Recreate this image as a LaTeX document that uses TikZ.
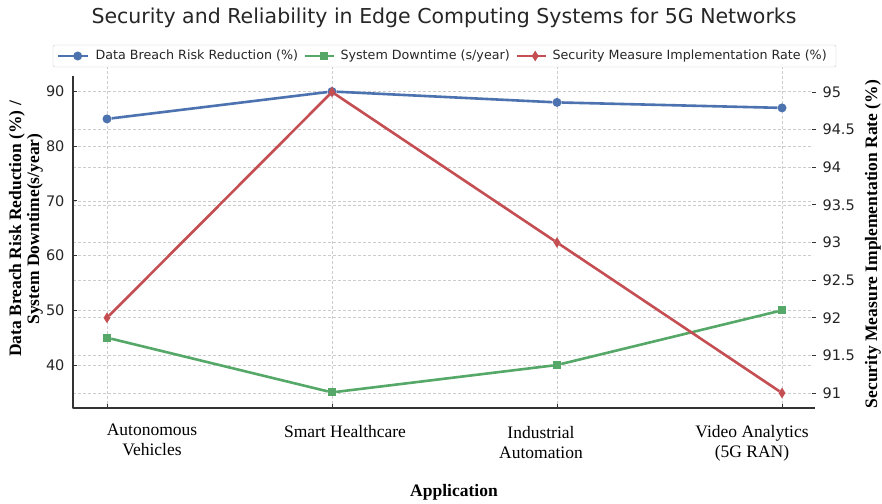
\documentclass[tikz,border=0pt]{standalone}
\usepackage{fontspec}
\setmainfont{Liberation Serif}
\newfontfamily\dejavu{DejaVu Sans}
\usetikzlibrary{shapes.geometric}
\definecolor{breachblue}{HTML}{4C72B0}
\definecolor{downgreen}{HTML}{55A868}
\definecolor{ratered}{HTML}{C44E52}
\definecolor{spinegrey}{HTML}{333333}
\begin{document}
\begin{tikzpicture}[x=1pt, y=-1pt, line join=round,
  grid line/.style={draw=black!20, dashed, dash pattern=on 3pt off 2pt, line width=0.7pt},
  spine/.style={draw=spinegrey, line width=1.3pt},
  tick mark/.style={draw=spinegrey, line width=0.9pt},
  tick label/.style={font=\dejavu\fontsize{14.5}{14.5}\selectfont, text=black!85},
  cat label/.style={font=\fontsize{17.5}{20}\selectfont, align=center},
  axis label/.style={font=\bfseries\fontsize{17.5}{18}\selectfont, align=center},
  blue node/.style={circle, fill=breachblue, minimum size=9pt, inner sep=0pt},
  green node/.style={rectangle, fill=downgreen, minimum size=8pt, inner sep=0pt},
  red node/.style={diamond, fill=ratered, minimum width=7pt, minimum height=11pt, inner sep=0pt},
  blue line/.style={draw=breachblue, line width=2.6pt},
  green line/.style={draw=downgreen, line width=2.6pt},
  red line/.style={draw=ratered, line width=2.6pt}]
\useasboundingbox[fill=white] (0,0) rectangle (882,503);
% grid
\begin{scope}[grid line]
\draw (107,56) -- (107,408);
\draw (332,56) -- (332,408);
\draw (557,56) -- (557,408);
\draw (782,56) -- (782,408);
\draw (73,91.5) -- (813,91.5);
\draw (73,146.2) -- (813,146.2);
\draw (73,200.9) -- (813,200.9);
\draw (73,255.6) -- (813,255.6);
\draw (73,310.3) -- (813,310.3);
\draw (73,365) -- (813,365);
\draw (73,129.6) -- (813,129.6);
\draw (73,167.3) -- (813,167.3);
\draw (73,204.9) -- (813,204.9);
\draw (73,242.5) -- (813,242.5);
\draw (73,280.1) -- (813,280.1);
\draw (73,317.8) -- (813,317.8);
\draw (73,355.4) -- (813,355.4);
\draw (73,393) -- (813,393);
\end{scope}
% axes
\draw[spine] (73,76) -- (73,408) -- (815,408);
\begin{scope}[tick mark]
\draw (73,91.5) -- (77,91.5);
\draw (73,146.2) -- (77,146.2);
\draw (73,200.9) -- (77,200.9);
\draw (73,255.6) -- (77,255.6);
\draw (73,310.3) -- (77,310.3);
\draw (73,365) -- (77,365);
\draw (107,408) -- (107,404);
\draw (332,408) -- (332,404);
\draw (557,408) -- (557,404);
\draw (782,408) -- (782,404);
\draw (812,92) -- (816,92);
\draw (812,129.6) -- (816,129.6);
\draw (812,167.3) -- (816,167.3);
\draw (812,204.9) -- (816,204.9);
\draw (812,242.5) -- (816,242.5);
\draw (812,280.1) -- (816,280.1);
\draw (812,317.8) -- (816,317.8);
\draw (812,355.4) -- (816,355.4);
\draw (812,393) -- (816,393);
\end{scope}
\begin{scope}[every node/.style={tick label, anchor=east}]
\node (l90) at (68,91.5) {90};
\node (l80) at (68,146.2) {80};
\node (l70) at (68,200.9) {70};
\node (l60) at (68,255.6) {60};
\node (l50) at (68,310.3) {50};
\node (l40) at (68,365) {40};
\end{scope}
\begin{scope}[every node/.style={tick label, anchor=west}]
\node (r950) at (819,92) {95};
\node (r945) at (819,129.6) {94.5};
\node (r940) at (819,167.3) {94};
\node (r935) at (819,204.9) {93.5};
\node (r930) at (819,242.5) {93};
\node (r925) at (819,280.1) {92.5};
\node (r920) at (819,317.8) {92};
\node (r915) at (819,355.4) {91.5};
\node (r910) at (819,393) {91};
\end{scope}
\begin{scope}[every node/.style={cat label}]
\node (c1) at (152,440) {Autonomous\\Vehicles};
\node (c2) at (345,432) {Smart Healthcare};
\node (c3) at (541,443) {Industrial\\Automation};
\node (c4) at (752,443) {Video Analytics\\(5G RAN)};
\end{scope}
\node[axis label] (xlab) at (454,492) {Application};
\node[axis label, rotate=90] (ylab) at (26,229) {Data Breach Risk Reduction (\%) /\\System Downtime(s/year)};
\node[axis label, rotate=90] (y2lab) at (873,244) {Security Measure Implementation Rate (\%)};
% series
\node[blue node] (b1) at (107,118.9) {};
\node[blue node] (b2) at (332,91.5) {};
\node[blue node] (b3) at (557,102.4) {};
\node[blue node] (b4) at (782,107.9) {};
\node[green node] (g1) at (107,337.7) {};
\node[green node] (g2) at (332,392.4) {};
\node[green node] (g3) at (557,365) {};
\node[green node] (g4) at (782,310.3) {};
\node[red node] (s1) at (107,317.8) {};
\node[red node] (s2) at (332,92) {};
\node[red node] (s3) at (557,242.5) {};
\node[red node] (s4) at (782,393) {};
\draw[blue line] (b1) -- (b2) -- (b3) -- (b4);
\draw[green line] (g1) -- (g2) -- (g3) -- (g4);
\draw[red line] (s1) -- (s2) -- (s3) -- (s4);
% title and legend
\node[font=\dejavu\fontsize{20.5}{20.5}\selectfont, text=black!85] (title) at (444,18) {Security and Reliability in Edge Computing Systems for 5G Networks};
\draw[draw=black!20, fill=white, rounded corners=2pt] (53,45) rectangle (836,67);
\begin{scope}[every node/.style={font=\dejavu\fontsize{12.7}{12.7}\selectfont, anchor=west, text=black!85}]
\coordinate (k1a) at (58,56);
\coordinate (k1b) at (88,56);
\draw[blue line] (k1a) -- (k1b);
\node[blue node] (k1) at (73,56) {};
\node (t1) at (92,56) {Data Breach Risk Reduction (\%)};
\coordinate (k2a) at (305,56);
\coordinate (k2b) at (334,56);
\draw[green line] (k2a) -- (k2b);
\node[green node] (k2) at (319.5,56) {};
\node (t2) at (337,56) {System Downtime (s/year)};
\coordinate (k3a) at (517,56);
\coordinate (k3b) at (546,56);
\draw[red line] (k3a) -- (k3b);
\node[red node] (k3) at (531.5,56) {};
\node (t3) at (549,56) {Security Measure Implementation Rate (\%)};
\end{scope}
\end{tikzpicture}
\end{document}
